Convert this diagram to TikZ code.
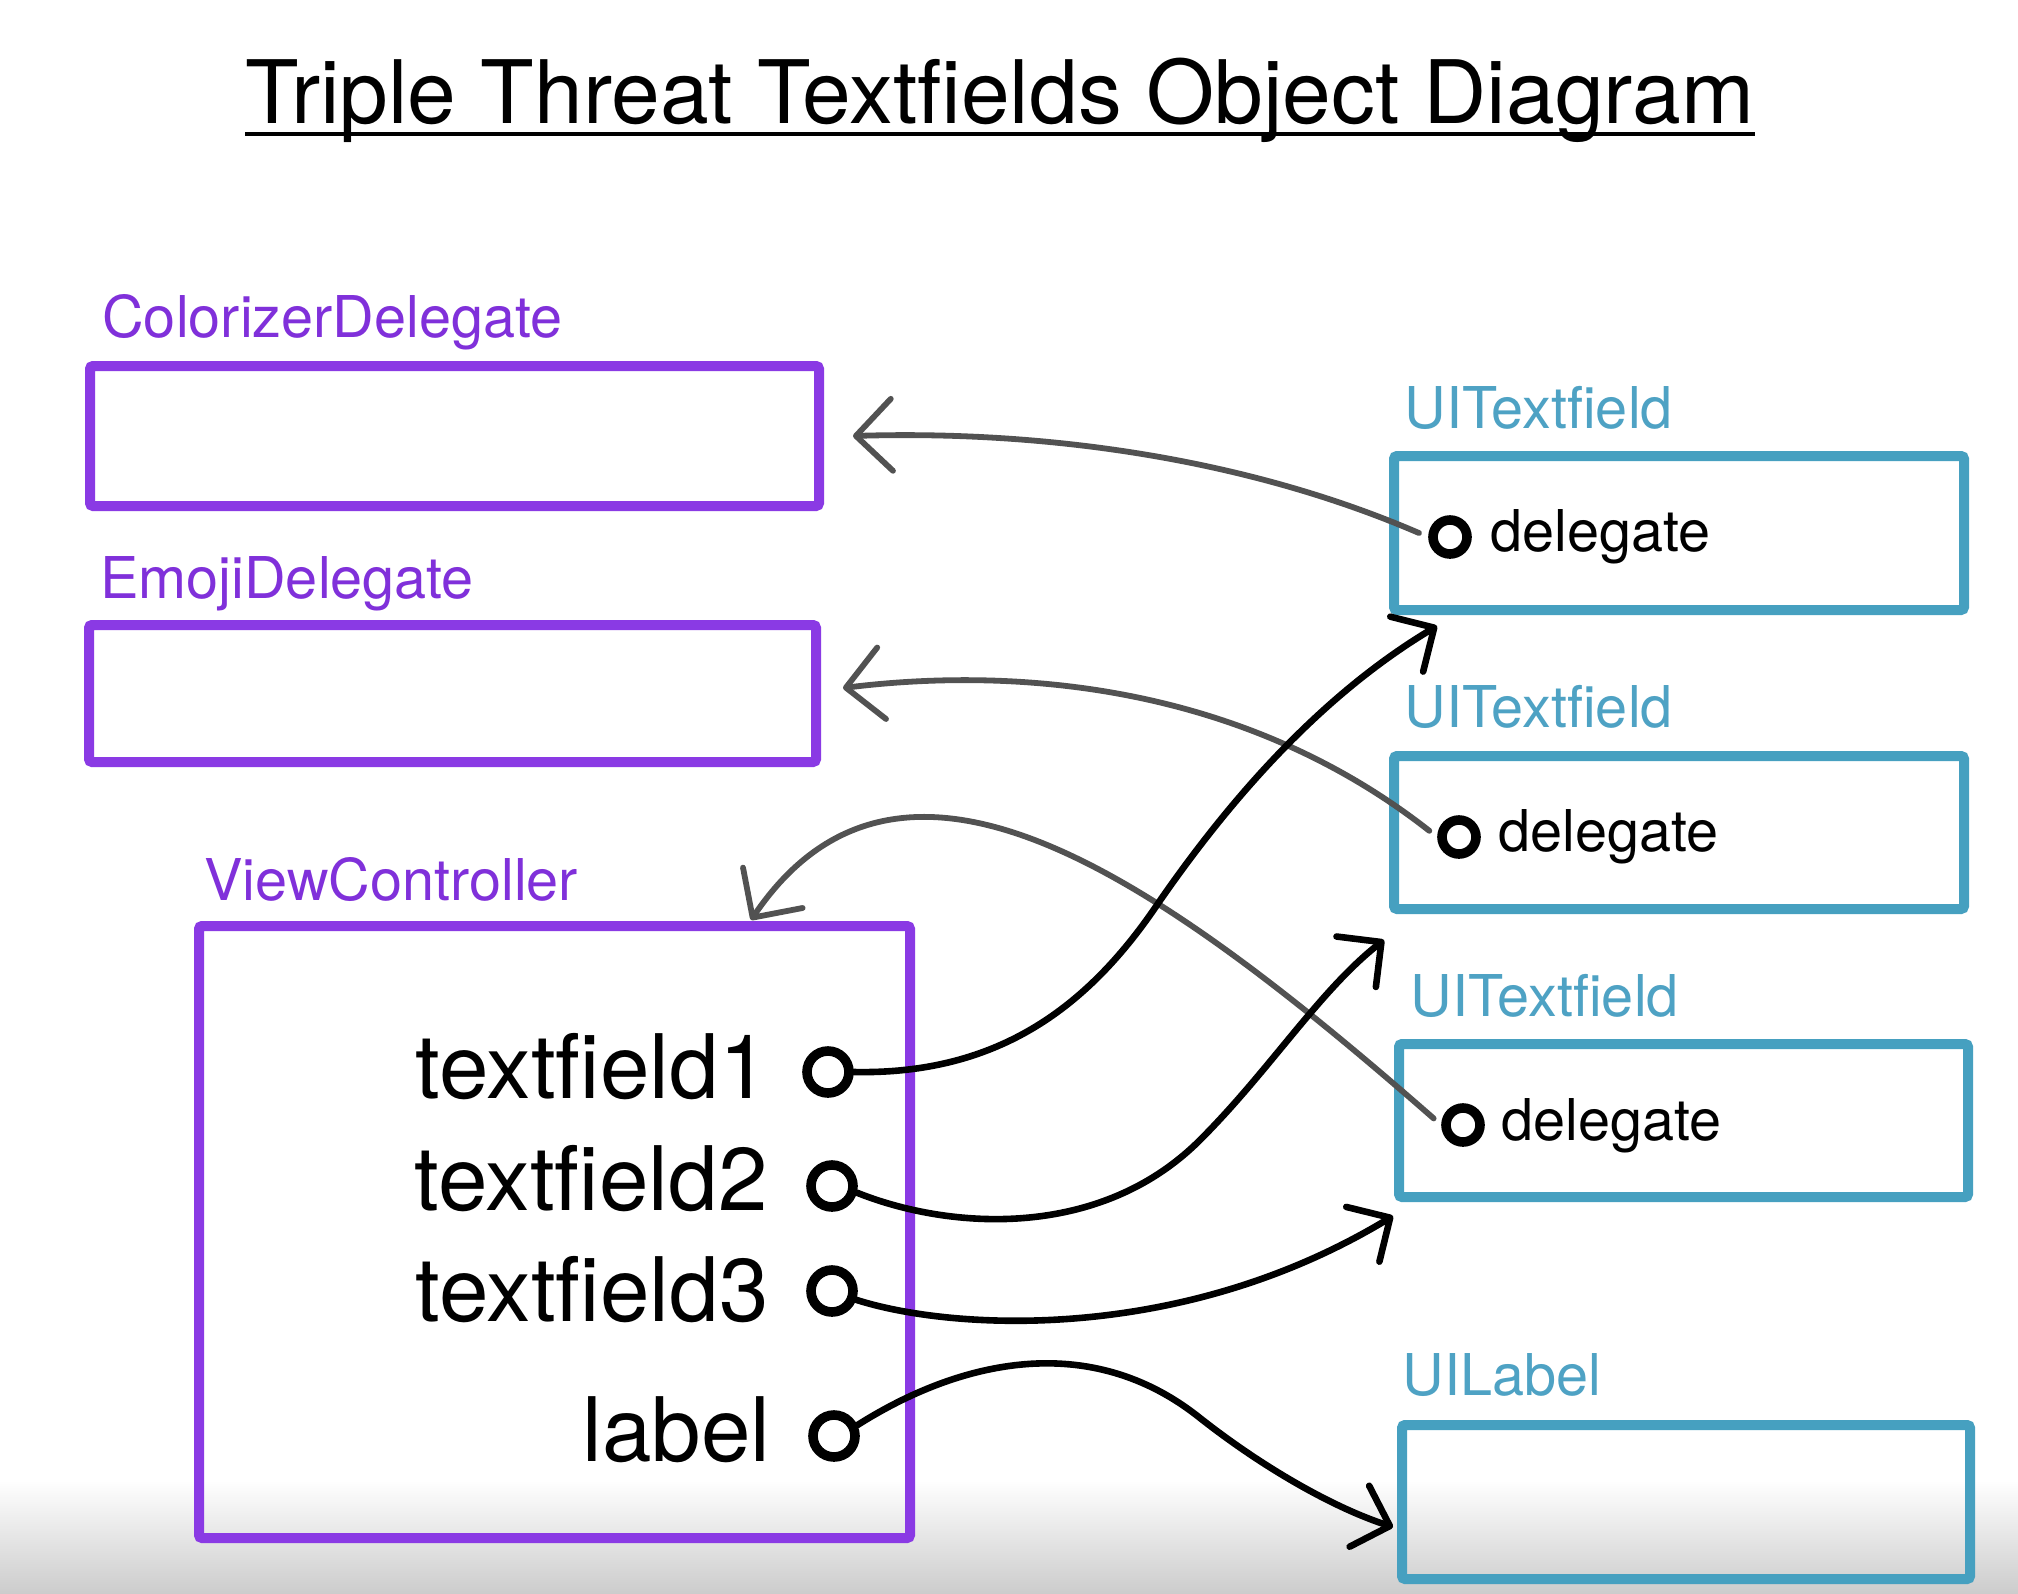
\documentclass[tikz,border=0pt]{standalone}
\usepackage{fontspec}
\setmainfont{TeX Gyre Heros}
\usetikzlibrary{arrows.meta,fit}
\definecolor{purp}{RGB}{138,58,228}
\definecolor{purptext}{RGB}{128,48,218}
\definecolor{tealbox}{RGB}{70,160,192}
\definecolor{tealtext}{RGB}{78,162,196}
\definecolor{garrow}{RGB}{82,82,82}
\begin{document}
\begin{tikzpicture}[x=0.5pt,y=-0.5pt,
  pbox/.style={draw=purp, line width=5pt, rounded corners=1.5pt, inner sep=0pt},
  tbox/.style={draw=tealbox, line width=5pt, rounded corners=1.5pt, inner sep=0pt},
  plabel/.style={text=purptext, font=\fontsize{28.8}{32}\selectfont, anchor=base west, inner sep=0pt},
  tlabel/.style={text=tealtext, font=\fontsize{28.8}{32}\selectfont, anchor=base west, inner sep=0pt},
  fieldtext/.style={font=\fontsize{44.5}{48}\selectfont, anchor=base east, inner sep=0pt},
  deltext/.style={font=\fontsize{28.8}{32}\selectfont, anchor=base west, inner sep=0pt},
  bigdot/.style={circle, draw=black, line width=4.8pt, minimum size=21pt, inner sep=0pt},
  smalldot/.style={circle, draw=black, line width=4.8pt, minimum size=17pt, inner sep=0pt},
  blackarrow/.style={draw=black, line width=3.3pt, line cap=round, -{Straight Barb[length=16pt,width=32pt,round]}},
  grayarrow/.style={draw=garrow, line width=2.9pt, line cap=round, shorten <=5pt, -{Straight Barb[length=18pt,width=36pt,round]}},
]
\useasboundingbox (0,0) rectangle (2018,1594);
\fill[white] (0,0) rectangle (2018,1594);
\shade[top color=white, bottom color=black!20] (0,1480) rectangle (2018,1594);

% title
\node[anchor=base west, inner sep=0pt, font=\fontsize{43.8}{46}\selectfont] (title) at (245,124) {Triple Threat Textfields Object Diagram};
\draw[line width=2pt] ([yshift=-5pt]title.base west) -- ([yshift=-5pt]title.base east);

% purple objects
\node[plabel] (cdlabel) at (102,337) {ColorizerDelegate};
\node[pbox, fit={(90,366) (819,506)}] (cd) {};
\node[plabel] (edlabel) at (100,598) {EmojiDelegate};
\node[pbox, fit={(89,625) (816,762)}] (ed) {};
\node[plabel] (vclabel) at (204,900) {ViewController};
\node[pbox, fit={(199,926) (910,1538)}] (vc) {};

% view controller fields
\node[fieldtext] (f1) at (769,1098) {textfield1};
\node[fieldtext] (f2) at (768,1210) {textfield2};
\node[fieldtext] (f3) at (769,1321) {textfield3};
\node[fieldtext] (f4) at (771,1461) {label};
\node[bigdot] (c1) at (828,1072) {};
\node[bigdot] (c2) at (832,1186) {};
\node[bigdot] (c3) at (832,1291) {};
\node[bigdot] (c4) at (834,1436) {};

% teal objects
\node[tlabel] (t1label) at (1404,428) {UITextfield};
\node[tbox, fit={(1394,456) (1964,610)}] (tf1) {};
\node[tlabel] (t2label) at (1404,727) {UITextfield};
\node[tbox, fit={(1394,756) (1964,909)}] (tf2) {};
\node[tlabel] (t3label) at (1410,1016) {UITextfield};
\node[tbox, fit={(1399,1044) (1968,1197)}] (tf3) {};
\node[tlabel] (ullabel) at (1402,1395) {UILabel};
\node[tbox, fit={(1402,1425) (1970,1579)}] (ul) {};

\node[smalldot] (d1) at (1450,537) {};
\node[deltext] (del1) at (1490,551) {delegate};
\node[smalldot] (d2) at (1459,837) {};
\node[deltext] (del2) at (1498,851) {delegate};
\node[smalldot] (d3) at (1463,1125) {};
\node[deltext] (del3) at (1501,1140) {delegate};

% arrow tips
\coordinate (cdtip) at (853,436);
\coordinate (edtip) at (843,688);
\coordinate (vctip) at (751,920);
\coordinate (t1tip) at (1437,626);
\coordinate (t2tip) at (1384,940);
\coordinate (t3tip) at (1393,1216);
\coordinate (ultip) at (1393,1527);

% gray delegate arrows
\draw[grayarrow] (d1.west) .. controls (1250,460) and (1050,430) .. (cdtip);
\draw[grayarrow] (d2.west) .. controls (1250,690) and (1030,665) .. (edtip);
\draw[grayarrow] (d3.west) .. controls (1150,870) and (900,700) .. (vctip);

% black outlet arrows
\draw[blackarrow] (c1.east) .. controls (1000,1075) and (1090,1005) .. (1159,902) .. controls (1240,785) and (1330,690) .. (t1tip);
\draw[blackarrow] (c2.-15) .. controls (950,1230) and (1100,1240) .. (1200,1140) .. controls (1270,1070) and (1320,990) .. (t2tip);
\draw[blackarrow] (c3.-20) .. controls (950,1330) and (1180,1345) .. (t3tip);
\draw[blackarrow] (c4.25) .. controls (960,1360) and (1090,1330) .. (1200,1418) .. controls (1270,1473) and (1340,1510) .. (ultip);
\end{tikzpicture}
\end{document}
